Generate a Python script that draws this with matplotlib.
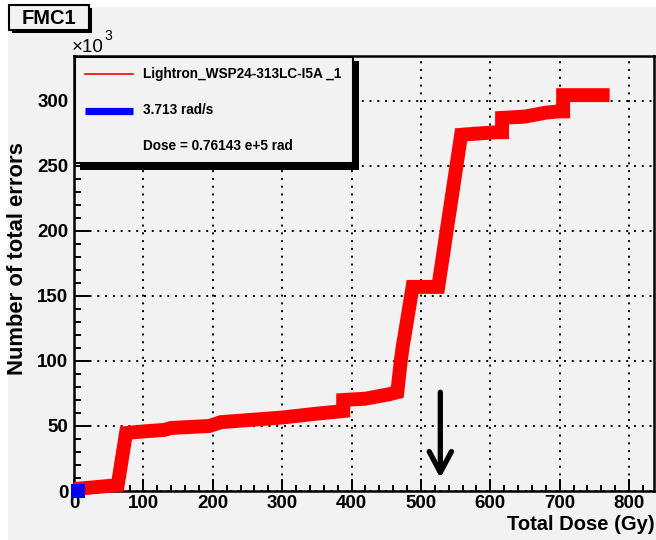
import matplotlib
matplotlib.use('Agg')
import matplotlib.pyplot as plt
from matplotlib.patches import Rectangle
from matplotlib.lines import Line2D
from matplotlib.ticker import MultipleLocator

plt.rcParams['font.family'] = ['Liberation Sans', 'DejaVu Sans']
plt.rcParams['font.weight'] = 'bold'

# ---- data (dose in Gy, errors in units of 10^3) ----
dose_gy = [0, 63, 75, 100, 130, 140, 195, 212, 250, 300, 350, 388, 388, 420,
           455, 466, 471, 474, 476, 488, 525, 558, 570, 610, 617, 617, 650,
           680, 698, 705, 705, 772]
errors_k = [1.5, 4.5, 44.6, 45.8, 47, 48.5, 50, 53, 54.5, 56.5, 59.5, 61.5, 70, 71,
            74.5, 76, 100, 112, 118, 157, 157, 274, 274.5, 276, 276, 287, 288,
            291, 292, 292, 304.5, 304.5]
blue_dose = [6]
blue_errors_k = [0]
arrow_dose = 528
arrow_start_k = 76
arrow_end_k = 10

x_ticks = [0, 100, 200, 300, 400, 500, 600, 700, 800]
y_ticks = [0, 50, 100, 150, 200, 250, 300]

legend_labels = ["Lightron_WSP24-313LC-I5A _1", "3.713 rad/s", "Dose = 0.76143 e+5 rad"]
title_text = "FMC1"
x_label = "Total Dose (Gy)"
y_label = "Number of total errors"

BG = '#f2f2f2'
W, H = 656, 540
fig = plt.figure(figsize=(W / 100, H / 100), dpi=100)
fig.patch.set_facecolor('white')


def fx(x):
    return x / W


def fy(y):
    return 1 - y / H


def prect(x0, y0, x1, y1, **kw):
    r = Rectangle((fx(x0), fy(y1)), fx(x1) - fx(x0), fy(y0) - fy(y1),
                  transform=fig.transFigure, **kw)
    fig.add_artist(r)
    return r


# gray canvas
prect(8, 7, W, H, facecolor=BG, edgecolor='none', zorder=-5)

ax = fig.add_axes([fx(74), fy(491), fx(654) - fx(74), fy(56) - fy(491)])
ax.set_facecolor(BG)
ax.set_xlim(0, 836)
ax.set_ylim(0, 334.6)
ax.set_xticks(x_ticks)
ax.set_yticks(y_ticks)
ax.xaxis.set_minor_locator(MultipleLocator(20))
ax.yaxis.set_minor_locator(MultipleLocator(10))
for s in ax.spines.values():
    s.set_linewidth(1.8)
    s.set_color('black')
ax.tick_params(axis='both', which='both', direction='in', top=False, right=False,
               width=1.4, labelsize=13.5)
ax.tick_params(axis='x', which='major', length=8.6, pad=3)
ax.tick_params(axis='x', which='minor', length=4.3)
ax.tick_params(axis='y', which='major', length=11.5, pad=4)
ax.tick_params(axis='y', which='minor', length=5)
ax.set_axisbelow(True)
ax.grid(True, which='major', color='black', linestyle=(0, (1, 3)), linewidth=1.4)

ax.plot(dose_gy, errors_k, color='#ff0000', lw=10, solid_joinstyle='miter',
        solid_capstyle='butt', clip_on=False, zorder=3)
ax.plot(blue_dose, blue_errors_k, linestyle='none', marker='s', markersize=10,
        color='#0000ff', markeredgewidth=0, clip_on=False, zorder=4)

ax.annotate('', xy=(arrow_dose, arrow_end_k), xytext=(arrow_dose, arrow_start_k),
            arrowprops=dict(arrowstyle='->,head_length=1.5,head_width=0.8',
                            lw=3.8, color='black', mutation_scale=10,
                            shrinkA=0, shrinkB=0), zorder=5)

# axis labels
fig.text(fx(655), fy(530), x_label, ha='right', va='baseline', fontsize=14.5)
fig.text(fx(18), fy(259), y_label, ha='center', va='center', rotation=90, fontsize=15.8)

# x10^3
fig.text(fx(72), fy(52), '\u00d710', ha='left', va='baseline', fontsize=13.5,
         fontweight='normal')
fig.text(fx(104), fy(40), '3', ha='left', va='baseline', fontsize=10,
         fontweight='normal')

# title box
prect(12, 8, 92, 33, facecolor='black', edgecolor='none', zorder=6)
prect(9, 5, 89, 30, facecolor=BG, edgecolor='black', linewidth=1.5, zorder=7)
fig.text(fx(49), fy(18), title_text, ha='center', va='center', fontsize=14.5, zorder=8)

# legend box
prect(80, 61, 359, 170, facecolor='black', edgecolor='none', zorder=6)
prect(75, 57, 353, 163, facecolor=BG, edgecolor='black', linewidth=1.5, zorder=7)
fig.add_artist(Line2D([fx(85), fx(133)], [fy(74), fy(74)], transform=fig.transFigure,
                      color='#ff0000', lw=1.2, zorder=8))
fig.add_artist(Line2D([fx(85), fx(133)], [fy(110.5), fy(110.5)], transform=fig.transFigure,
                      color='#0000ff', lw=5.2, solid_capstyle='butt', zorder=8))
for lab, yy in zip(legend_labels, [74, 110.5, 146]):
    fig.text(fx(143), fy(yy), lab, ha='left', va='center', fontsize=9.8, zorder=8)

fig.savefig('out.png', dpi=100, facecolor='white')
